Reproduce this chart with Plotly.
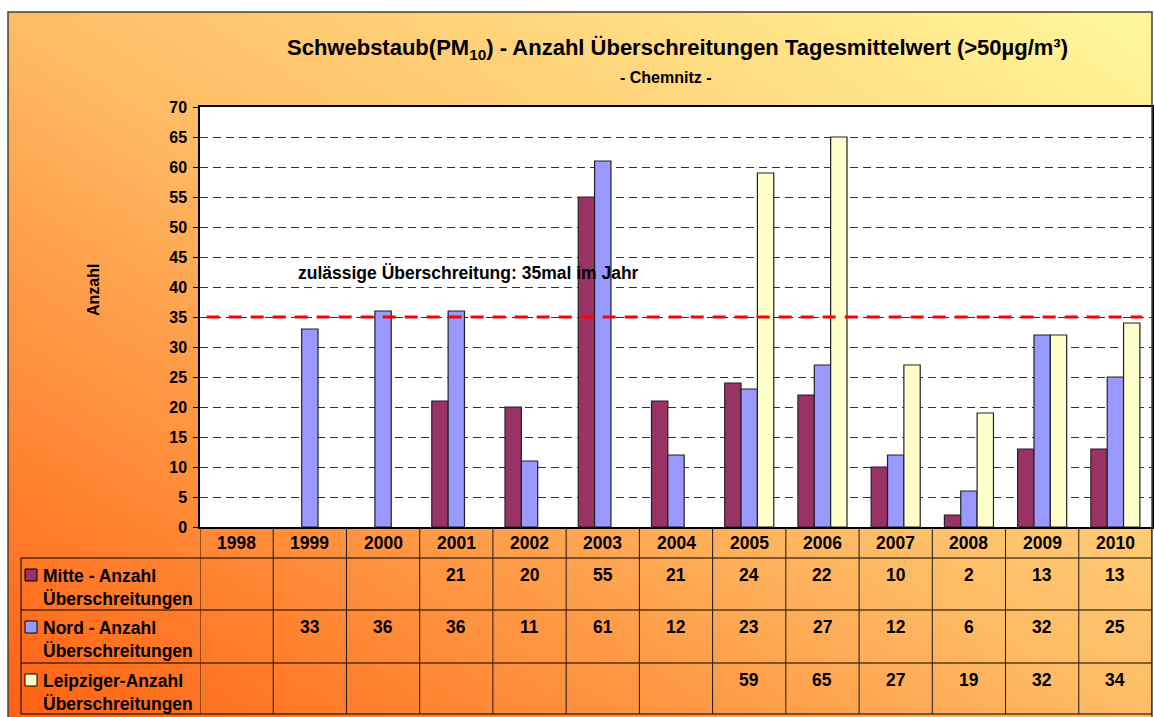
import base64
import struct
import zlib
import plotly.graph_objects as go

# ---------------- data ----------------
years = ["1998", "1999", "2000", "2001", "2002", "2003", "2004",
         "2005", "2006", "2007", "2008", "2009", "2010"]
mitte = [None, None, None, 21, 20, 55, 21, 24, 22, 10, 2, 13, 13]
nord = [None, 33, 36, 36, 11, 61, 12, 23, 27, 12, 6, 32, 25]
leipziger = [None, None, None, None, None, None, None, 59, 65, 27, 19, 32, 34]
series_values = [mitte, nord, leipziger]
series_labels = ["Mitte - Anzahl<br>Überschreitungen",
                 "Nord - Anzahl<br>Überschreitungen",
                 "Leipziger-Anzahl<br>Überschreitungen"]
series_colors = ["#993366", "#9999FF", "#FFFFCC"]
limit_value = 35
limit_label = "zulässige Überschreitung: 35mal im Jahr"
title_text = "Schwebstaub(PM<sub>10</sub>) - Anzahl Überschreitungen Tagesmittelwert (>50µg/m³)"
subtitle_text = "- Chemnitz -"
y_title = "Anzahl"

# ---------------- geometry helpers ----------------
W, H = 1154, 717
FONT = "Arial, 'Liberation Sans', sans-serif"


def px(x):
    return x / W


def py(y):
    return 1 - y / H


# ---------------- gradient background image ----------------
def make_png(w, h, fn):
    raw = bytearray()
    for j in range(h):
        raw.append(0)
        for i in range(w):
            raw.extend(fn(i / (w - 1), 1 - j / (h - 1)))

    def chunk(tag, data):
        return (struct.pack(">I", len(data)) + tag + data +
                struct.pack(">I", zlib.crc32(tag + data) & 0xFFFFFFFF))

    return (b"\x89PNG\r\n\x1a\n" +
            chunk(b"IHDR", struct.pack(">IIBBBBB", w, h, 8, 2, 0, 0, 0)) +
            chunk(b"IDAT", zlib.compress(bytes(raw), 9)) +
            chunk(b"IEND", b""))


stops = [(0.0, (255, 98, 18)), (0.5, (254, 188, 102)), (1.0, (255, 248, 155))]


def grad(u, v):
    t = (u + v) / 2
    for (t0, c0), (t1, c1) in zip(stops[:-1], stops[1:]):
        if t <= t1:
            f = (t - t0) / (t1 - t0)
            return bytes(int(round(a + (b - a) * f)) for a, b in zip(c0, c1))
    return bytes(stops[-1][1])


png_uri = "data:image/png;base64," + base64.b64encode(make_png(229, 141, grad)).decode()

# ---------------- figure ----------------
fig = go.Figure()
for vals, col, lab in zip(series_values, series_colors, series_labels):
    fig.add_trace(go.Bar(
        x=years, y=vals, name=lab.replace("<br>", " "),
        marker=dict(color=col, line=dict(color="#222222", width=1.2)),
        hoverinfo="x+y"))

FRAME_L, FRAME_T, FRAME_R = 8, 12, 1152
PLOT_L, PLOT_R, PLOT_T, PLOT_B = 200, 1152, 107, 527
ROW_TOPS = [558, 610, 663]
TABLE_BOTTOM = 714
LEG_L = 21

shapes = []
annotations = []

# white plot area
shapes.append(dict(type="rect", xref="paper", yref="paper",
                   x0=px(PLOT_L), x1=px(PLOT_R), y0=py(PLOT_B), y1=py(PLOT_T),
                   fillcolor="#FFFFFF", line=dict(width=0), layer="below"))

# frame
shapes.append(dict(type="rect", xref="paper", yref="paper",
                   x0=px(FRAME_L), x1=px(FRAME_R), y0=py(FRAME_T), y1=py(H + 5),
                   line=dict(color="#404040", width=1.5), layer="above"))

# limit line
shapes.append(dict(type="line", xref="x domain", yref="y", x0=0.007, x1=0.99,
                   y0=limit_value, y1=limit_value,
                   line=dict(color="#FF0000", width=3, dash="13px,9px")))

# table horizontal lines
for yy in ROW_TOPS + [TABLE_BOTTOM]:
    shapes.append(dict(type="line", xref="paper", yref="paper",
                       x0=px(LEG_L), x1=px(PLOT_R), y0=py(yy), y1=py(yy),
                       line=dict(color="#000000", width=1)))
# table vertical lines
shapes.append(dict(type="line", xref="paper", yref="paper",
                   x0=px(LEG_L), x1=px(LEG_L), y0=py(ROW_TOPS[0]), y1=py(TABLE_BOTTOM),
                   line=dict(color="#000000", width=1)))
for i in range(len(years) + 1):
    shapes.append(dict(type="line", xref="x", yref="paper",
                       x0=i - 0.5, x1=i - 0.5, y0=py(PLOT_B), y1=py(TABLE_BOTTOM),
                       line=dict(color="#1a1a1a", width=1)))

tfont = dict(family=FONT, size=17.5, color="#000000", weight="bold")

# header (years) - category index positions on the x axis
for i, yr in enumerate(years):
    annotations.append(dict(x=i, xref="x", y=py(543), yref="paper", text=yr,
                            showarrow=False, font=tfont, xanchor="center", yanchor="middle"))

# rows
for r, (vals, col, lab) in enumerate(zip(series_values, series_colors, series_labels)):
    top = ROW_TOPS[r]
    for i, v in enumerate(vals):
        if v is not None:
            annotations.append(dict(x=i, xref="x", y=py(top + 17), yref="paper",
                                    text=str(v), showarrow=False, font=tfont,
                                    xanchor="center", yanchor="middle"))
    shapes.append(dict(type="rect", xref="paper", yref="paper",
                       x0=px(25), x1=px(37), y0=py(top + 11), y1=py(top + 23),
                       fillcolor=col, line=dict(color="#000000", width=1)))
    annotations.append(dict(x=px(41), xref="paper", y=py(top + 29), yref="paper",
                            text=lab, showarrow=False, font=tfont, align="left",
                            xanchor="left", yanchor="middle"))

# title, subtitle
annotations.append(dict(x=px(677), y=py(49), xref="paper", yref="paper", text=title_text,
                        showarrow=False, xanchor="center", yanchor="middle",
                        font=dict(family=FONT, size=22, color="#000000", weight="bold")))
annotations.append(dict(x=px(666), y=py(78), xref="paper", yref="paper", text=subtitle_text,
                        showarrow=False, xanchor="center", yanchor="middle",
                        font=dict(family=FONT, size=16, color="#000000", weight="bold")))
# y title
annotations.append(dict(x=px(93), y=py(290), xref="paper", yref="paper", text=y_title,
                        textangle=-90, showarrow=False, xanchor="center", yanchor="middle",
                        font=dict(family=FONT, size=16, color="#000000", weight="bold")))
# limit label
annotations.append(dict(x=0.81, xref="x", y=42.3, yref="y", text=limit_label,
                        showarrow=False, xanchor="left", yanchor="middle",
                        font=dict(family=FONT, size=17.5, color="#000000", weight="bold")))

fig.update_layout(
    width=W, height=H, autosize=False,
    margin=dict(l=0, r=0, t=0, b=0, pad=0, autoexpand=False),
    paper_bgcolor="#FFFFFF",
    plot_bgcolor="rgba(0,0,0,0)",
    showlegend=False,
    barmode="group", bargap=0.33, bargroupgap=0,
    font=dict(family=FONT),
    images=[dict(source=png_uri, xref="paper", yref="paper",
                 x=px(FRAME_L), y=py(FRAME_T), sizex=px(FRAME_R) - px(FRAME_L),
                 sizey=py(FRAME_T) - py(H), xanchor="left", yanchor="top",
                 sizing="stretch", layer="below")],
    shapes=shapes,
    annotations=annotations,
    xaxis=dict(domain=[px(PLOT_L), px(PLOT_R)], type="category", range=[-0.5, len(years) - 0.5],
               showticklabels=False, ticks="", showgrid=False, showline=True, automargin=False,
               linecolor="#000000", linewidth=2, mirror=True, fixedrange=True),
    yaxis=dict(domain=[py(PLOT_B), py(PLOT_T)], range=[0, 70], dtick=5, tick0=0,
               ticks="outside", ticklen=5, tickcolor="#000000", tickwidth=1,
               ticklabelstandoff=3, automargin=False,
               tickfont=dict(family=FONT, size=16, color="#000000", weight="bold"),
               showgrid=True, gridcolor="#333333", gridwidth=1, griddash="8px,5px",
               zeroline=False, showline=True, linecolor="#000000", linewidth=1.5,
               mirror=True, fixedrange=True),
)

post = ("document.documentElement.style.margin='0';"
        "document.body.style.margin='0';document.body.style.overflow='hidden';"
        "var gd=document.getElementById('{plot_id}');"
        "gd.style.position='fixed';gd.style.left='0px';gd.style.top='0px';")

fig.write_html("out.html", config={"displayModeBar": False}, post_script=post)
